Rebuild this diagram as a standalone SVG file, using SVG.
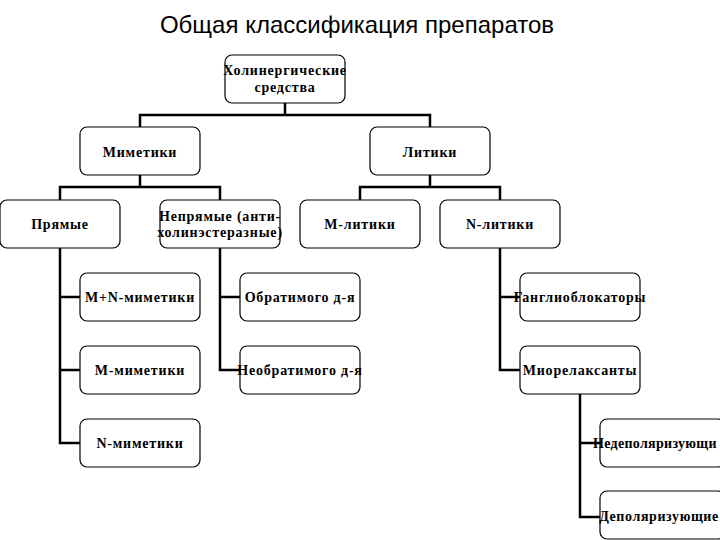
<svg xmlns="http://www.w3.org/2000/svg" width="720" height="540" viewBox="0 0 720 540">
<style>
.box{fill:#fff;stroke:#000;stroke-width:1.2}
.t{font-family:"Liberation Serif","Times New Roman",serif;font-size:14px;font-weight:bold;text-anchor:middle;fill:#000;letter-spacing:0.8px}
.title{font-family:"Liberation Sans",Arial,sans-serif;font-size:24px;text-anchor:middle;fill:#000}
.c{fill:none;stroke:#000;stroke-width:2.5}
</style>
<rect width="720" height="540" fill="#fff"/>
<text class="title" x="357" y="33">Общая классификация препаратов</text>
<g id="connectors">
<path class="c" d="M285,103V115M140,127V115H430V127"/>
<path class="c" d="M140,175V187M60,200V187H220V200"/>
<path class="c" d="M430,175V187M360,200V187H500V200"/>
<path class="c" d="M60,248V443H80M60,297H80M60,370H80"/>
<path class="c" d="M220,248V370H240M220,297H240"/>
<path class="c" d="M500,248V370H520M500,297H520"/>
<path class="c" d="M580,394V517H600M580,443H600"/>
</g>
<g id="root"><rect class="box" x="225" y="55" width="120" height="48" rx="7"/><text class="t" x="285" y="75">Холинергические</text><text class="t" x="285" y="92">средства</text></g>
<g id="mimetiki"><rect class="box" x="80" y="127" width="120" height="48" rx="7"/><text class="t" x="140" y="157">Миметики</text></g>
<g id="litiki"><rect class="box" x="370" y="127" width="120" height="48" rx="7"/><text class="t" x="430" y="157">Литики</text></g>
<g id="pryamye"><rect class="box" x="0" y="200" width="120" height="48" rx="7"/><text class="t" x="60" y="229">Прямые</text></g>
<g id="nepryamye"><rect class="box" x="160" y="200" width="120" height="48" rx="7"/><text class="t" x="220" y="221">Непрямые (анти-</text><text class="t" x="220" y="237">холинэстеразные)</text></g>
<g id="m-litiki"><rect class="box" x="300" y="200" width="120" height="48" rx="7"/><text class="t" x="360" y="229">М-литики</text></g>
<g id="n-litiki"><rect class="box" x="440" y="200" width="120" height="48" rx="7"/><text class="t" x="500" y="229">N-литики</text></g>
<g id="mn-mimetiki"><rect class="box" x="80" y="273" width="120" height="48" rx="7"/><text class="t" x="140" y="302">М+N-миметики</text></g>
<g id="m-mimetiki"><rect class="box" x="80" y="346" width="120" height="48" rx="7"/><text class="t" x="140" y="375">М-миметики</text></g>
<g id="n-mimetiki"><rect class="box" x="80" y="419" width="120" height="48" rx="7"/><text class="t" x="140" y="448">N-миметики</text></g>
<g id="obratimogo"><rect class="box" x="240" y="273" width="120" height="48" rx="7"/><text class="t" x="300" y="302">Обратимого д-я</text></g>
<g id="neobratimogo"><rect class="box" x="240" y="346" width="120" height="48" rx="7"/><text class="t" x="300" y="375">Необратимого д-я</text></g>
<g id="ganglio"><rect class="box" x="520" y="273" width="120" height="48" rx="7"/><text class="t" x="580" y="302">Ганглиоблокаторы</text></g>
<g id="miorelaksanty"><rect class="box" x="520" y="346" width="120" height="48" rx="7"/><text class="t" x="580" y="375">Миорелаксанты</text></g>
<g id="nedepol"><rect class="box" x="600" y="419" width="125" height="48" rx="7"/><text class="t" x="593" y="448" style="text-anchor:start;letter-spacing:0.3px">Недеполяризующи</text></g>
<g id="depol"><rect class="box" x="600" y="491" width="125" height="48" rx="7"/><text class="t" x="659" y="521" style="letter-spacing:0.6px">Деполяризующие</text></g>
</svg>
